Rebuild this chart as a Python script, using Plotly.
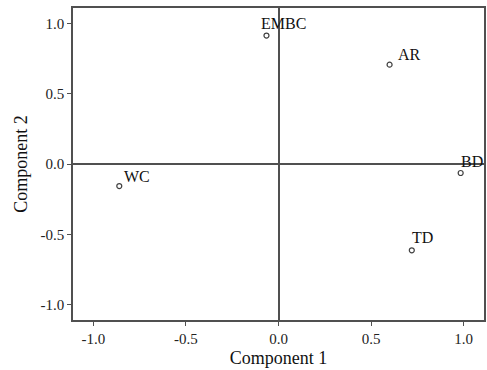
import plotly.graph_objects as go

labels = ["EMBC", "AR", "BD", "WC", "TD"]
comp1 = [-0.065, 0.60, 0.984, -0.86, 0.72]
comp2 = [0.914, 0.707, -0.064, -0.157, -0.614]
tick_vals = [-1.0, -0.5, 0.0, 0.5, 1.0]
tick_text = ["-1.0", "-0.5", "0.0", "0.5", "1.0"]

# label pixel offsets (style)
label_dx = [-7, 6, -2, 3, -2]
label_dy = [2, 0, 1, -1, 2]

FONT = "Liberation Serif, Times New Roman, serif"
LINE = "#505050"

fig = go.Figure()
fig.add_trace(go.Scatter(
    x=comp1, y=comp2, mode="markers",
    marker=dict(symbol="circle-open", size=5, color="#404040", line=dict(width=1.2)),
    hoverinfo="skip", showlegend=False,
))
for lab, x, y, dx, dy in zip(labels, comp1, comp2, label_dx, label_dy):
    fig.add_annotation(x=x, y=y, text=lab, showarrow=False, xanchor="left", yanchor="bottom",
                       xshift=dx, yshift=dy, font=dict(family=FONT, size=16, color="#111"))

axis_common = dict(
    range=[-1.11, 1.11], tickvals=tick_vals, ticktext=tick_text,
    showgrid=False, zeroline=True, zerolinecolor=LINE, zerolinewidth=1.5,
    showline=True, linecolor=LINE, linewidth=1.5, mirror=True,
    ticks="outside", ticklen=4, tickcolor=LINE, tickwidth=1.2,
    tickfont=dict(family=FONT, size=15, color="#222"),
    title_font=dict(family=FONT, size=18, color="#111"),
)
fig.update_xaxes(**axis_common, title_text="Component 1", title_standoff=6)
fig.update_yaxes(**axis_common, title_text="Component 2", title_standoff=8)

fig.update_layout(
    width=487, height=370,
    margin=dict(l=73, r=1, t=8, b=50),
    plot_bgcolor="white", paper_bgcolor="white",
)
fig.write_html("out.html", config={"displayModeBar": False},
               post_script="document.body.style.margin='0';document.body.style.overflow='hidden';")
